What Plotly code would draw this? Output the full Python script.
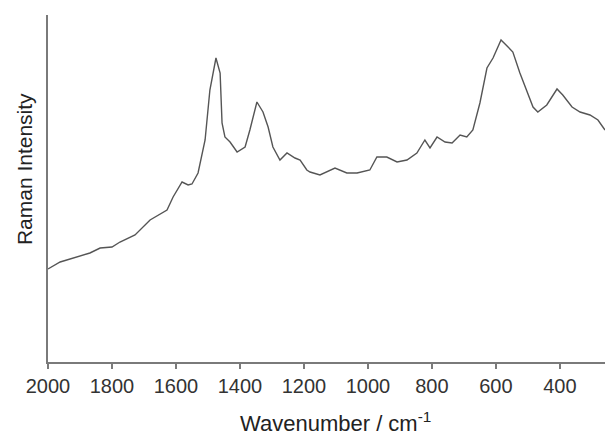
import plotly.graph_objects as go

# Raman spectrum (wavenumber in cm^-1, intensity in arbitrary units)
wavenumber = [2000, 1962, 1869, 1837, 1800, 1775, 1728, 1681, 1628, 1609, 1581,
              1562, 1550, 1531, 1509, 1494, 1475, 1462, 1456, 1447, 1431, 1409,
              1384, 1369, 1347, 1328, 1312, 1297, 1275, 1253, 1228, 1212, 1191,
              1181, 1150, 1103, 1066, 1034, 994, 972, 941, 909, 878, 847, 822,
              806, 784, 759, 737, 712, 691, 672, 650, 628, 609, 584, 562, 547,
              525, 503, 484, 469, 441, 409, 391, 362, 337, 306, 281, 259]
intensity = [93, 100, 109, 114, 115, 120, 127, 142, 152, 165, 180,
             177, 178, 189, 222, 272, 304, 289, 239, 225, 220, 210,
             215, 232, 260, 250, 235, 215, 202, 209, 204, 202, 192,
             190, 187, 194, 189, 189, 192, 205, 205, 200, 202, 209, 222,
             214, 225, 220, 219, 227, 225, 232, 259, 294, 304, 322, 315, 310,
             289, 270, 255, 250, 257, 273, 267, 255, 250, 247, 242, 232]

x_ticks = [2000, 1800, 1600, 1400, 1200, 1000, 800, 600, 400]

fig = go.Figure(
    go.Scatter(
        x=wavenumber,
        y=intensity,
        mode="lines",
        line=dict(color="#555555", width=1.4),
        showlegend=False,
    )
)

axis_color = "#7a7a7a"
font_family = "Liberation Sans, Arial, sans-serif"

fig.update_layout(
    width=605,
    height=439,
    margin=dict(l=48, r=0, t=15, b=77),
    paper_bgcolor="white",
    plot_bgcolor="white",
    font=dict(family=font_family, color="#333333", size=20),
    xaxis=dict(
        range=[2000, 259],
        tickvals=x_ticks,
        ticktext=[str(v) for v in x_ticks],
        ticks="outside",
        ticklen=5,
        tickwidth=1.5,
        tickcolor=axis_color,
        showline=True,
        linecolor=axis_color,
        linewidth=2,
        showgrid=False,
        zeroline=False,
        tickfont=dict(size=20, color="#333333"),
    ),
    yaxis=dict(
        range=[0, 347],
        showticklabels=False,
        ticks="",
        showline=True,
        linecolor=axis_color,
        linewidth=2,
        showgrid=False,
        zeroline=False,
    ),
    annotations=[
        dict(
            text="Raman Intensity",
            textangle=-90,
            xref="paper", yref="paper",
            x=-0.043, y=0.556,
            xanchor="center", yanchor="middle",
            showarrow=False,
            font=dict(size=21, color="#222222"),
        ),
        dict(
            text="Wavenumber / cm<sup>-1</sup>",
            xref="paper", yref="paper",
            x=0.516, y=-0.174,
            xanchor="center", yanchor="middle",
            showarrow=False,
            font=dict(size=22, color="#222222"),
        ),
    ],
)

fig.write_html("out.html")
